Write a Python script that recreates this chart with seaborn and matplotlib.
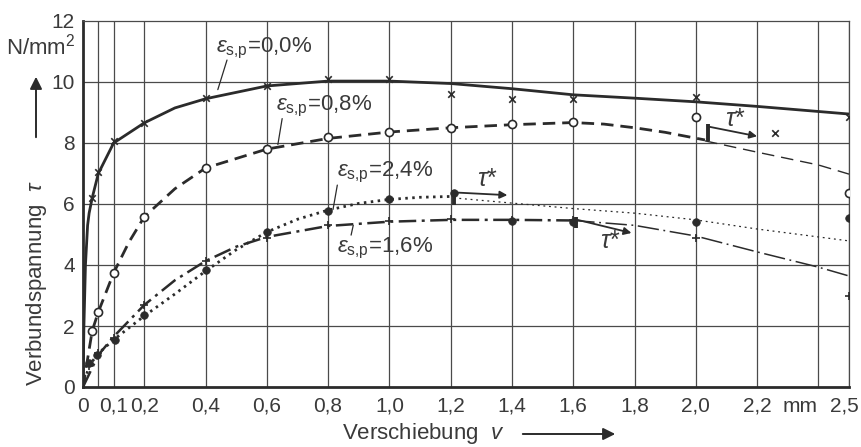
import numpy as np
import pandas as pd
import matplotlib
matplotlib.use("Agg")
import matplotlib.pyplot as plt
import matplotlib.transforms as mtransforms
import seaborn as sns

# --- measured points (displacement v in mm, bond stress tau in N/mm^2) ---
v_meas_00 = [0.03, 0.05, 0.10, 0.20, 0.40, 0.60, 0.80, 1.00, 1.20, 1.40, 1.60, 2.00, 2.50]
tau_meas_00 = [6.20, 7.05, 8.07, 8.66, 9.48, 9.87, 10.10, 10.10, 9.60, 9.44, 9.44, 9.50, 8.85]
v_extra_00 = [2.26]
tau_extra_00 = [8.33]

v_meas_08 = [0.03, 0.05, 0.10, 0.20, 0.40, 0.60, 0.80, 1.00, 1.20, 1.40, 1.60, 2.00, 2.50]
tau_meas_08 = [1.84, 2.46, 3.74, 5.58, 7.18, 7.80, 8.20, 8.36, 8.50, 8.62, 8.68, 8.85, 6.36]

v_meas_24 = [0.02, 0.045, 0.105, 0.20, 0.40, 0.60, 0.80, 1.00, 1.21, 1.40, 1.60, 2.00, 2.50]
tau_meas_24 = [0.79, 1.05, 1.55, 2.35, 3.85, 5.08, 5.77, 6.16, 6.36, 5.45, 5.40, 5.41, 5.54]

v_meas_16 = [0.02, 0.05, 0.10, 0.20, 0.40, 0.60, 0.80, 1.00, 1.20, 1.40, 1.60, 2.00, 2.50]
tau_meas_16 = [0.70, 1.10, 1.60, 2.69, 4.14, 4.90, 5.30, 5.45, 5.50, 5.48, 5.48, 4.89, 2.98]

# --- fitted curves (main part up to tau*, then continuation) ---
v_fit_00 = [0, 0.003, 0.008, 0.015, 0.02, 0.03, 0.05, 0.10, 0.20, 0.30, 0.40, 0.60, 0.80,
            1.00, 1.20, 1.40, 1.60, 1.80, 2.00, 2.20, 2.50]
tau_fit_00 = [0, 2.0, 4.0, 5.3, 5.7, 6.2, 7.0, 8.0, 8.66, 9.15, 9.45, 9.87, 10.03,
              10.03, 9.95, 9.78, 9.58, 9.47, 9.35, 9.2, 8.95]

v_fit_08 = [0, 0.03, 0.05, 0.10, 0.15, 0.20, 0.30, 0.40, 0.60, 0.80, 1.00, 1.20, 1.40,
            1.60, 1.70, 1.80, 1.90, 2.03]
tau_fit_08 = [0, 1.84, 2.46, 3.74, 4.75, 5.58, 6.50, 7.18, 7.80, 8.15, 8.36, 8.50, 8.60,
              8.67, 8.62, 8.50, 8.35, 8.10]
v_tail_08 = [2.03, 2.20, 2.40, 2.50]
tau_tail_08 = [8.07, 7.70, 7.28, 6.98]

v_fit_24 = [0, 0.02, 0.05, 0.10, 0.20, 0.30, 0.40, 0.50, 0.60, 0.70, 0.80, 0.90, 1.00, 1.10, 1.21]
tau_fit_24 = [0, 0.7, 1.1, 1.55, 2.33, 3.05, 3.80, 4.50, 5.08, 5.50, 5.80, 6.02, 6.15, 6.22, 6.25]
v_tail_24 = [1.21, 1.40, 1.60, 1.80, 2.00, 2.20, 2.50]
tau_tail_24 = [6.20, 6.03, 5.85, 5.70, 5.48, 5.18, 4.79]

v_fit_16 = [0, 0.05, 0.10, 0.20, 0.30, 0.40, 0.50, 0.60, 0.80, 1.00, 1.20, 1.40, 1.60]
tau_fit_16 = [0, 1.05, 1.65, 2.69, 3.50, 4.13, 4.60, 4.92, 5.28, 5.42, 5.48, 5.48, 5.46]
v_tail_16 = [1.60, 1.80, 2.00, 2.20, 2.40, 2.50]
tau_tail_16 = [5.46, 5.30, 4.95, 4.43, 3.93, 3.64]

# tick positions and labels
x_ticks = [0, 0.1, 0.2, 0.4, 0.6, 0.8, 1.0, 1.2, 1.4, 1.6, 1.8, 2.0, 2.2, 2.4, 2.5]
x_tick_labels = ["0", "0,1", "0,2", "0,4", "0,6", "0,8", "1,0", "1,2", "1,4", "1,6",
                 "1,8", "2,0", "2,2", "mm", "2,5"]
x_grid = [0.05, 0.1, 0.2, 0.4, 0.6, 0.8, 1.0, 1.2, 1.4, 1.6, 1.8, 2.0, 2.2, 2.4, 2.5]
y_ticks = [0, 2, 4, 6, 8, 10, 12]
y_tick_labels = ["0", "2", "4", "6", "8", "10", "12"]

# ---------------------------------------------------------------
sns.set_style("white")
FONT = ["Liberation Sans", "DejaVu Sans"]
plt.rcParams["font.family"] = FONT
plt.rcParams["mathtext.fontset"] = "custom"
plt.rcParams["mathtext.rm"] = "Liberation Sans"
plt.rcParams["mathtext.it"] = "Liberation Sans:italic"

INK = "#2b2b2b"
GRID = "#4a4a4a"
TXT = "#3a3a3a"
FS = 15

fig = plt.figure(figsize=(8.61, 4.47), dpi=100)
ax = fig.add_axes([83 / 861, 60 / 447, (849 - 83) / 861, (387 - 21) / 447])

ax.set_xlim(0, 2.5)
ax.set_ylim(0, 12)

# grid
for gx in x_grid:
    ax.axvline(gx, color=GRID, lw=0.9, zorder=1)
for gy in [2, 4, 6, 8, 10]:
    ax.axhline(gy, color=GRID, lw=0.9, zorder=1)
for side in ["left", "bottom"]:
    ax.spines[side].set_linewidth(2.0)
    ax.spines[side].set_color(INK)
for side in ["top", "right"]:
    ax.spines[side].set_linewidth(0.9)
    ax.spines[side].set_color(GRID)

def line(v, t, lw, ls):
    sns.lineplot(x=v, y=t, ax=ax, color=INK, linewidth=lw, linestyle=ls,
                 sort=False, estimator=None, zorder=3)

# fitted curves
line(v_fit_00, tau_fit_00, 2.0, "-")
line(v_fit_08, tau_fit_08, 2.0, (0, (4.5, 2.5)))
line(v_tail_08, tau_tail_08, 1.0, (0, (9, 5)))
line(v_fit_24, tau_fit_24, 2.0, (0, (0.9, 1.6)))
line(v_tail_24, tau_tail_24, 0.9, (0, (1.5, 3)))
line(v_fit_16, tau_fit_16, 1.8, (0, (7, 2.2, 1.2, 2.2)))
line(v_tail_16, tau_tail_16, 1.1, (0, (14, 3, 1.2, 3)))

# measured points
sns.scatterplot(x=v_meas_00 + v_extra_00, y=tau_meas_00 + tau_extra_00, ax=ax, marker="x",
                s=22, color=INK, linewidth=1.2, zorder=4)
sns.scatterplot(x=v_meas_08, y=tau_meas_08, ax=ax, marker="o", s=34, facecolor="white",
                edgecolor=INK, linewidth=1.2, zorder=4)
sns.scatterplot(x=v_meas_24, y=tau_meas_24, ax=ax, marker="o", s=30, color=INK,
                edgecolor=INK, linewidth=0.5, zorder=4)
sns.scatterplot(x=v_meas_16, y=tau_meas_16, ax=ax, marker="+", s=40, color=INK,
                linewidth=1.2, zorder=4)

# tau* markers: short bar on the curve plus arrow
def tau_star(x0, y_bot, y_top, x1, y1, tx, ty):
    ax.plot([x0, x0], [y_bot, y_top], color=INK, lw=2.8, solid_capstyle="butt", zorder=5)
    ax.annotate("", xy=(x1, y1), xytext=(x0, y_top - 0.08),
                arrowprops=dict(arrowstyle="-|>", color=INK, lw=1.3,
                                mutation_scale=11, shrinkA=0, shrinkB=0), zorder=5)
    ax.text(tx, ty, r"$\tau$" + "*", fontsize=FS + 3, color=TXT, ha="center", va="center")

tau_star(2.04, 8.05, 8.62, 2.20, 8.22, 2.13, 8.80)
tau_star(1.21, 5.97, 6.46, 1.385, 6.29, 1.32, 6.82)
tau_star(1.61, 5.21, 5.57, 1.79, 5.05, 1.72, 4.80)

# strain labels with leader lines
def eps_label(txt_v, txt_t, value, lx0, ly0, lx1, ly1):
    ax.text(txt_v, txt_t, r"$\varepsilon_{\mathrm{s{,}p}}$=" + value, fontsize=FS + 1,
            color=TXT, ha="left", va="center")
    ax.plot([lx0, lx1], [ly0, ly1], color=INK, lw=0.9, zorder=5)

eps_label(0.435, 11.1, "0,0%", 0.47, 10.72, 0.44, 9.75)
eps_label(0.63, 9.2, "0,8%", 0.65, 8.80, 0.636, 7.95)
eps_label(0.83, 7.05, "2,4%", 0.83, 6.62, 0.816, 5.82)
eps_label(0.83, 4.55, "1,6%", 0.875, 4.98, 0.882, 5.30)

# ticks and labels
ax.set_xticks(x_ticks)
ax.set_xticklabels(x_tick_labels)
ax.set_yticks(y_ticks)
ax.set_yticklabels(y_tick_labels)
ax.tick_params(axis="both", length=0, labelsize=FS, labelcolor=TXT, pad=6)
ax.tick_params(axis="x", pad=7)
ax.set_xlabel("")
ax.set_ylabel("")

# nudge the unit label and the last value so they sit side by side
xlabels = ax.get_xticklabels()
xlabels[-2].set_transform(xlabels[-2].get_transform() +
                          mtransforms.ScaledTranslation(-18 / 100, 0, fig.dpi_scale_trans))
xlabels[-1].set_transform(xlabels[-1].get_transform() +
                          mtransforms.ScaledTranslation(-5 / 100, 0, fig.dpi_scale_trans))

# unit label on the y axis
fig.text(75 / 861, 1 - 47 / 447, r"N/mm$^2$", fontsize=FS + 1, color=TXT, ha="right",
         va="center")

# axis titles with arrows
fig.text(37 / 861, 1 - 386 / 447, r"Verbundspannung  $\tau$", fontsize=FS + 1, color=TXT,
         rotation=90, ha="center", va="bottom")
fig.add_artist(matplotlib.patches.FancyArrowPatch(
    (36 / 861, 1 - 140 / 447), (36 / 861, 1 - 74 / 447), transform=fig.transFigure,
    arrowstyle="-|>", mutation_scale=18, color=INK, lw=1.4))

fig.text(342 / 861, 1 - 433 / 447, r"Verschiebung  $\mathit{v}$", fontsize=FS + 1, color=TXT,
         ha="left", va="center")
fig.add_artist(matplotlib.patches.FancyArrowPatch(
    (520 / 861, 1 - 434 / 447), (618 / 861, 1 - 434 / 447), transform=fig.transFigure,
    arrowstyle="-|>", mutation_scale=18, color=INK, lw=1.4))

fig.savefig("out.png", dpi=100, facecolor="white")
